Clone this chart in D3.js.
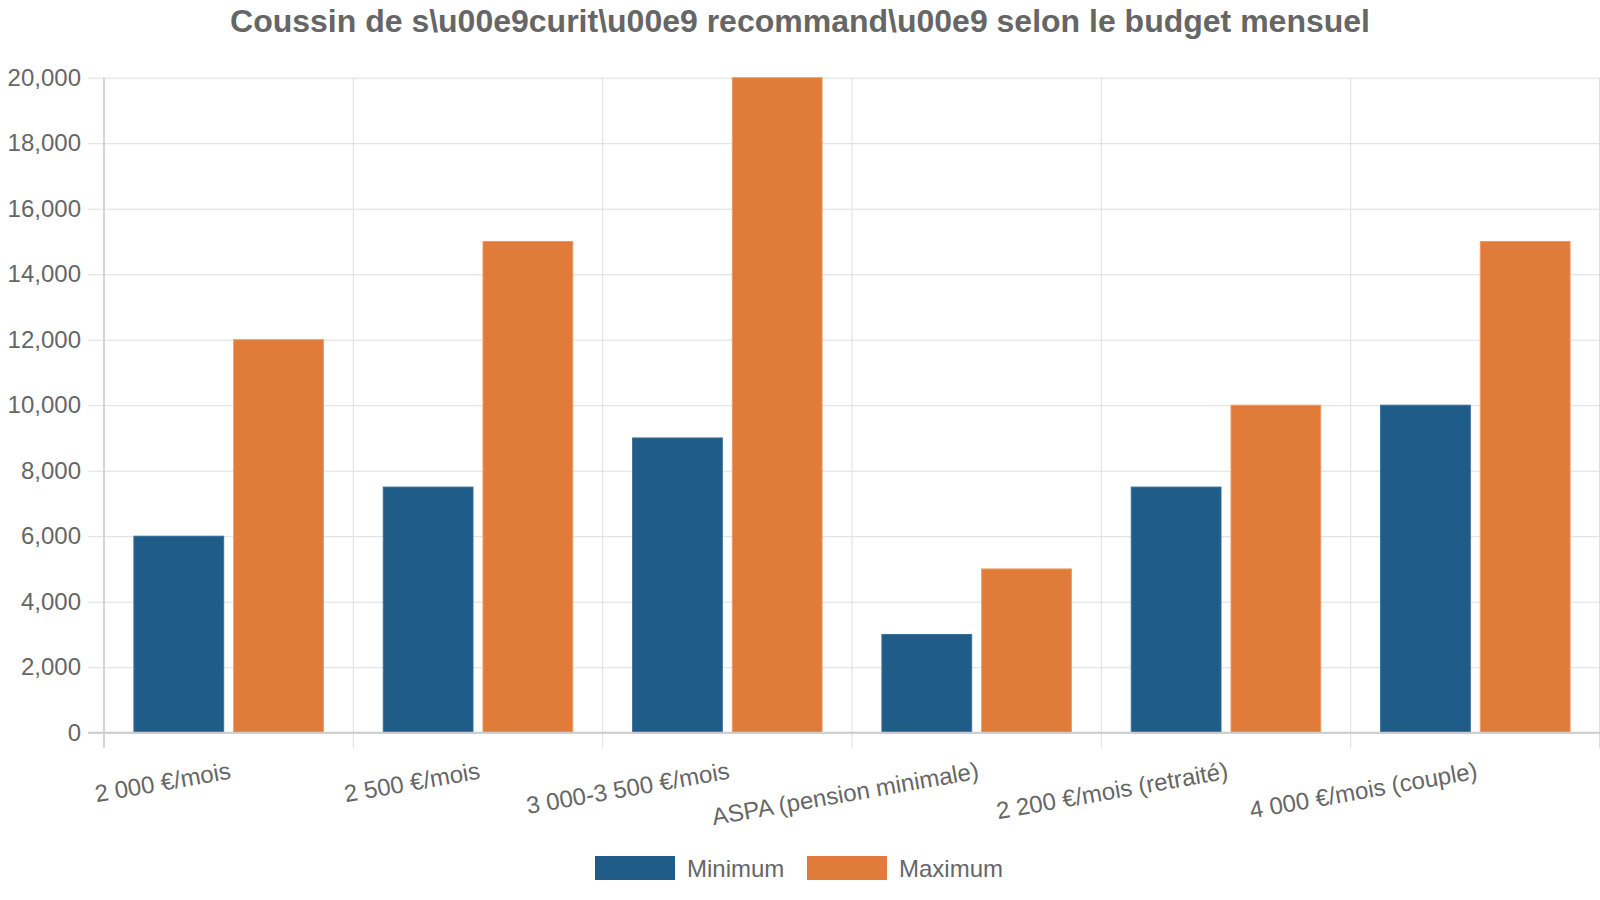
<!DOCTYPE html>
<html>
<head>
<meta charset="utf-8">
<script src="https://cdn.jsdelivr.net/npm/d3@7"></script>
<style>
  html, body { margin: 0; padding: 0; background: #ffffff; }
  svg { display: block; font-family: "Liberation Sans", Arial, sans-serif; }
</style>
</head>
<body>
<svg id="chart" width="1600" height="900"></svg>
<script>
const titleText = "Coussin de s\\u00e9curit\\u00e9 recommand\\u00e9 selon le budget mensuel";
const categories = ["2 000 €/mois", "2 500 €/mois", "3 000-3 500 €/mois", "ASPA (pension minimale)", "2 200 €/mois (retraité)", "4 000 €/mois (couple)"];
const seriesNames = ["Minimum", "Maximum"];
const minimumValues = [6000, 7500, 9000, 3000, 7500, 10000];
const maximumValues = [12000, 15000, 20000, 5000, 10000, 15000];
const yTicks = [0, 2000, 4000, 6000, 8000, 10000, 12000, 14000, 16000, 18000, 20000];
const colors = ["#1f5c87", "#e07b39"];
const borderColors = ["#3a6f95", "#ec9a66"];

const seriesValues = [minimumValues, maximumValues];
const svg = d3.select("#chart");
const textColor = "#666666";
const gridColor = "#dedede";

const plotLeft = 104, plotRight = 1600, plotTop = 77.7, plotBottom = 732.7;

const x = d3.scaleBand().domain(categories).range([plotLeft, plotRight]).paddingInner(0).paddingOuter(0);
const xInner = d3.scaleBand().domain(seriesNames)
  .range([x.bandwidth() * 0.1, x.bandwidth() * 0.9]).paddingInner(0.1).paddingOuter(0.05);
const y = d3.scaleLinear().domain([0, 20000]).range([plotBottom, plotTop]);

// Horizontal gridlines + left ticks
const yAxis = d3.axisLeft(y).tickValues(yTicks).tickSize(16).tickPadding(7)
  .tickFormat(d3.format(","));
const gy = svg.append("g").attr("transform", `translate(${plotLeft},0)`).call(yAxis);
gy.select(".domain").remove();
gy.selectAll(".tick line").attr("stroke", gridColor).attr("stroke-width", 1);
gy.selectAll(".tick").append("line")
  .attr("x1", 0).attr("x2", plotRight - plotLeft).attr("y1", 0).attr("y2", 0)
  .attr("stroke", gridColor).attr("stroke-width", 1);
gy.selectAll(".tick text").attr("fill", textColor).style("font-size", "24px")
  .style("font-family", "'Liberation Sans', Arial, sans-serif");

// Vertical gridlines at band boundaries
const boundaries = categories.map(c => x(c)).concat([plotRight - 0.5]);
svg.append("g").selectAll("line").data(boundaries).join("line")
  .attr("x1", d => d).attr("x2", d => d)
  .attr("y1", plotTop).attr("y2", plotBottom + 15)
  .attr("stroke", gridColor).attr("stroke-width", 1);

// Axis line
svg.append("line").attr("x1", plotLeft).attr("x2", plotLeft).attr("y1", plotTop).attr("y2", plotBottom + 15)
  .attr("stroke", "#cccccc").attr("stroke-width", 1.5);

// Bars
const groups = svg.append("g").selectAll("g").data(categories).join("g")
  .attr("transform", c => `translate(${x(c)},0)`);
groups.selectAll("rect").data((c, i) => seriesNames.map((s, si) => ({ s, si, v: seriesValues[si][i] })))
  .join("rect")
  .attr("x", d => xInner(d.s))
  .attr("width", xInner.bandwidth())
  .attr("y", d => y(d.v))
  .attr("height", d => y(0) - y(d.v))
  .attr("fill", d => colors[d.si])
  .attr("stroke", d => borderColors[d.si])
  .attr("stroke-width", 1);

// Zero line
svg.append("line").attr("x1", plotLeft - 16).attr("x2", plotRight).attr("y1", y(0)).attr("y2", y(0))
  .attr("stroke", "#cccccc").attr("stroke-width", 2);

// X labels
svg.append("g").selectAll("text").data(categories).join("text")
  .attr("transform", c => `translate(${x(c) + x.bandwidth() / 2},${plotBottom + 28}) rotate(-10)`)
  .attr("text-anchor", "end")
  .attr("dy", "0.75em")
  .attr("fill", textColor)
  .style("font-size", "24px")
  .text(c => c);

// Title
svg.append("text").attr("x", 800).attr("y", 31.5).attr("text-anchor", "middle")
  .attr("fill", textColor).style("font-size", "32px").style("font-weight", "bold")
  .text(titleText);

// Legend
const legendItems = [
  { name: seriesNames[0], color: colors[0], x: 595 },
  { name: seriesNames[1], color: colors[1], x: 807 }
];
const lg = svg.append("g").selectAll("g").data(legendItems).join("g")
  .attr("transform", d => `translate(${d.x},856)`);
lg.append("rect").attr("width", 80).attr("height", 24).attr("fill", d => d.color);
lg.append("text").attr("x", 92).attr("y", 21).attr("fill", textColor)
  .style("font-size", "24px").text(d => d.name);
</script>
</body>
</html>
